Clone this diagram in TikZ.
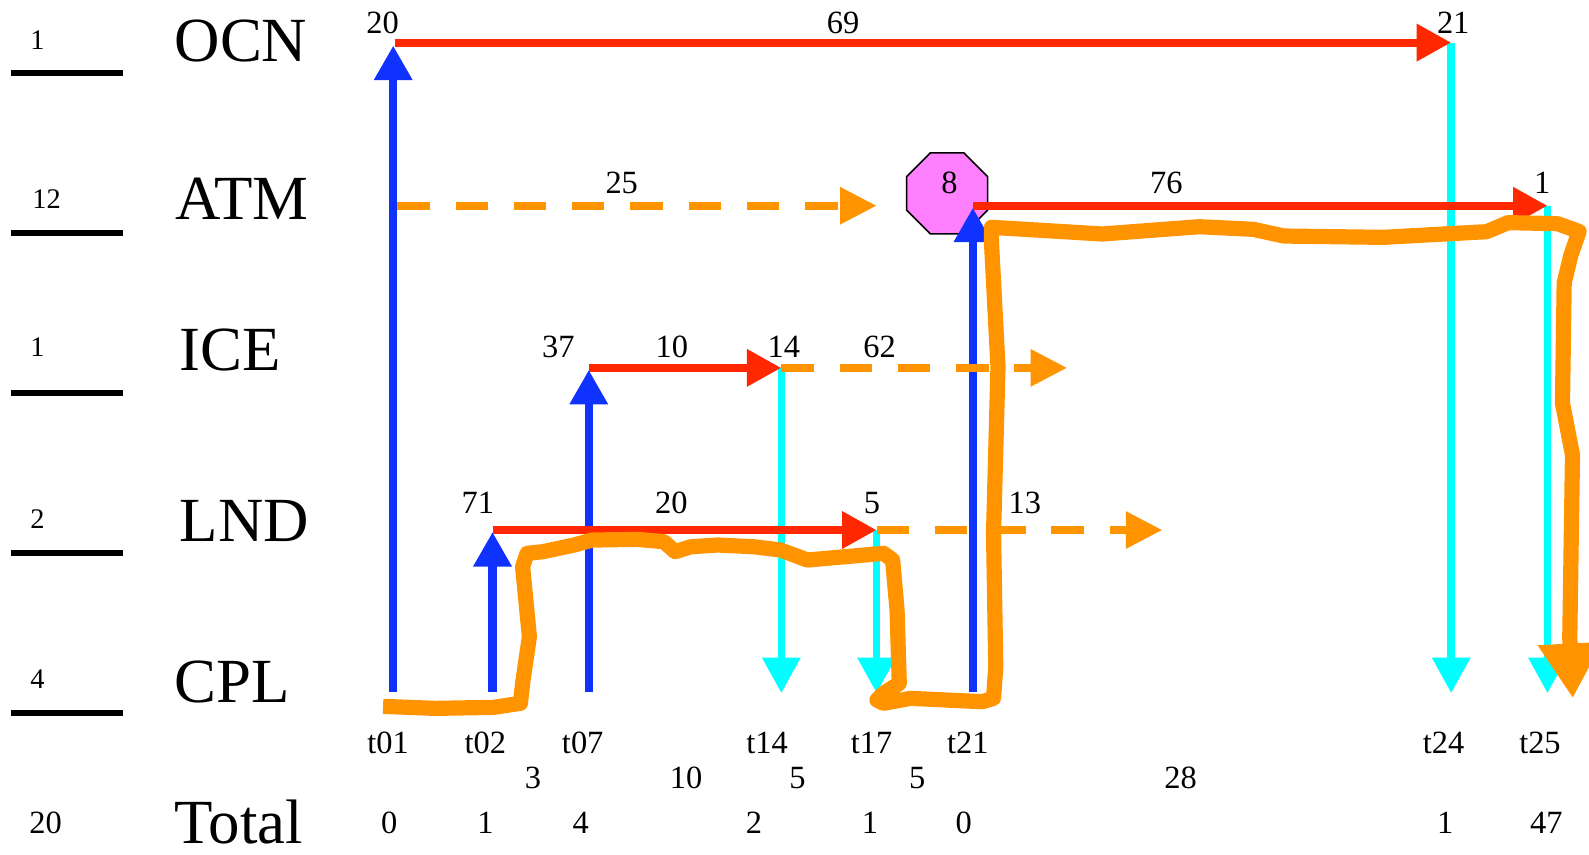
\documentclass[tikz,border=0pt]{standalone}
\usepackage{fontspec}
\setmainfont{Liberation Serif}
\usetikzlibrary{arrows.meta,shapes.geometric}
\definecolor{cblue}{RGB}{16,50,255}
\definecolor{cred}{RGB}{255,40,0}
\definecolor{ccyan}{RGB}{0,255,255}
\definecolor{corange}{RGB}{255,148,0}
\definecolor{cpink}{RGB}{255,128,255}
\begin{document}
\begin{tikzpicture}[x=0.5pt,y=-0.5pt,
  num/.style={inner sep=0pt, anchor=base, font=\fontsize{16}{19}\selectfont},
  lnum/.style={inner sep=0pt, anchor=base, font=\fontsize{14}{17}\selectfont},
  comp/.style={inner sep=0pt, anchor=base west, font=\fontsize{31}{36}\selectfont},
  rowline/.style={line width=3pt, black},
  upflow/.style={line width=4pt, cblue, -{Triangle[length=17pt,width=18pt]}},
  downflow/.style={line width=3.75pt, ccyan, -{Triangle[length=17.5pt,width=18pt]}},
  sendflow/.style={line width=4pt, cred, -{Triangle[length=17pt,width=17.5pt]}},
  waitflow/.style={line width=3.75pt, corange, dash pattern=on 16pt off 12.75pt, -{Triangle[length=18pt,width=17.5pt]}},
  critpath/.style={line width=7.5pt, corange, line join=round, -{Triangle[length=27pt,width=30pt]}},
  stopbox/.style={regular polygon, regular polygon sides=8, draw=black, line width=0.8pt, fill=cpink, minimum size=43.3pt, inner sep=0pt}
]
\useasboundingbox (0,0) rectangle (1568,843);

% component rows: separator lines, counts, names
\coordinate (l1a) at (11,71.7);  \coordinate (l1b) at (121.7,71.7);
\coordinate (l2a) at (11,229.6); \coordinate (l2b) at (121.7,229.6);
\coordinate (l3a) at (11,387.5); \coordinate (l3b) at (121.7,387.5);
\coordinate (l4a) at (11,545.4); \coordinate (l4b) at (121.7,545.4);
\coordinate (l5a) at (11,703.3); \coordinate (l5b) at (121.7,703.3);
\draw[rowline] (l1a) -- (l1b);
\draw[rowline] (l2a) -- (l2b);
\draw[rowline] (l3a) -- (l3b);
\draw[rowline] (l4a) -- (l4b);
\draw[rowline] (l5a) -- (l5b);

\node[lnum] (nocn) at (37,48.7) {1};
\node[lnum] (natm) at (46,205.6) {12};
\node[lnum] (nice) at (37,352) {1};
\node[lnum] (nlnd) at (37,521.4) {2};
\node[lnum] (ncpl) at (37,679.2) {4};
\node[num]  (ntot) at (45,822) {20};

\node[comp] (ocn) at (172,61) {OCN};
\node[comp] (atm) at (173,217) {ATM};
\node[comp] (ice) at (177,366) {ICE};
\node[comp] (lnd) at (177,534.5) {LND};
\node[comp] (cpl) at (172,693) {CPL};
\node[comp] (tot) at (172,832) {Total};

% grid points
\coordinate (ocn01) at (388,42);
\coordinate (ocn24) at (1432,42);
\coordinate (atm01) at (390,203);
\coordinate (atm17) at (865,203);
\coordinate (atm21) at (960,203);
\coordinate (atm25) at (1527,203);
\coordinate (ice07) at (581,363);
\coordinate (ice14) at (771,363);
\coordinate (iceend) at (1053,363);
\coordinate (lnd02) at (486,523);
\coordinate (lnd17) at (865,523);
\coordinate (lndend) at (1147,523);
\coordinate (cpl01) at (388,683);
\coordinate (cpl02) at (486,683);
\coordinate (cpl07) at (581,683);
\coordinate (cpl14) at (771,684);
\coordinate (cpl17) at (865,684);
\coordinate (cpl21) at (960,683);
\coordinate (cpl24) at (1432,684);
\coordinate (cpl25) at (1527,684);

% octagon
\node[stopbox] (stop) at (934.6,190.8) {};

% blue (up)
\draw[upflow] (cpl01) -- ([yshift=-1.5pt]ocn01);
\draw[upflow] (cpl02) -- ([yshift=-1pt]lnd02);
\draw[upflow] (cpl07) -- ([yshift=-1pt]ice07);
\draw[upflow] (cpl21) -- ([yshift=-1pt]atm21);

% cyan (down)
\draw[downflow] (ocn24) -- (cpl24);
\draw[downflow] (atm25) -- (cpl25);
\draw[downflow] (ice14) -- (cpl14);
\draw[downflow] (lnd17) -- (cpl17);

% orange dashed
\draw[waitflow] ([xshift=1pt]atm01) -- (atm17);
\draw[waitflow] (ice14) -- (iceend);
\draw[waitflow] (lnd17) -- (lndend);

% red (send)
\draw[sendflow] ([xshift=1pt]ocn01) -- (ocn24);
\draw[sendflow] (atm21) -- (atm25);
\draw[sendflow] (ice07) -- (ice14);
\draw[sendflow] (lnd02) -- (lnd17);

% labels on the rows
\node[num] (o20) at (377.6,33) {20};
\node[num] (o69) at (832,33) {69};
\node[num] (o21) at (1434,33) {21};
\node[num] (a25) at (613.5,191) {25};
\node[num] (a8)  at (937,191) {8};
\node[num] (a76) at (1151,191) {76};
\node[num] (a1)  at (1521.8,191) {1};
\node[num] (i37) at (551,352.5) {37};
\node[num] (i10) at (663,352.5) {10};
\node[num] (i14) at (773.5,352.5) {14};
\node[num] (i62) at (868,352.5) {62};
\node[num] (d71) at (471.5,506.5) {71};
\node[num] (d20) at (662.4,506.5) {20};
\node[num] (d5)  at (860.4,506.5) {5};
\node[num] (d13) at (1011.3,506.5) {13};

% time labels
\node[num] (t01) at (383,744) {t01};
\node[num] (t02) at (479,744) {t02};
\node[num] (t07) at (575,744) {t07};
\node[num] (t14) at (757,744) {t14};
\node[num] (t17) at (860,744) {t17};
\node[num] (t21) at (955,744) {t21};
\node[num] (t24) at (1424.5,744) {t24};
\node[num] (t25) at (1519.6,744) {t25};

\node[num] (g1) at (526,778) {3};
\node[num] (g2) at (677,778) {10};
\node[num] (g3) at (787,778) {5};
\node[num] (g4) at (905,778) {5};
\node[num] (g5) at (1165,778) {28};

\node[num] (s01) at (384,822) {0};
\node[num] (s02) at (479,822) {1};
\node[num] (s07) at (573,822) {4};
\node[num] (s14) at (744,822) {2};
\node[num] (s17) at (858.5,822) {1};
\node[num] (s21) at (951,822) {0};
\node[num] (s24) at (1426,822) {1};
\node[num] (s25) at (1526,822) {47};

% critical path (freehand)
\draw[critpath] (378,697) -- (429.5,699) -- (487,698) -- (513.5,694) -- (516,672) -- (522.4,628.3) -- (515.7,559.2) -- (520.1,546) -- (535.6,544.4) -- (566.6,537.8) -- (584.2,532.9) -- (628.6,532.2) -- (655.1,534.5) -- (666.2,544.4) -- (681.7,539.5) -- (708.2,537.8) -- (743.6,539.5) -- (770.2,542.7) -- (796.7,552.6) -- (871.9,546) -- (880.8,552.6) -- (885.2,602) -- (887.4,674.3) -- (871.9,684.2) -- (865.3,690.8) -- (871.9,694) -- (898.5,689.1) -- (969.3,692.4) -- (980.4,689.1) -- (982.6,657.8) -- (980.4,526.3) -- (984.8,361.8) -- (978.4,240) -- (978.4,224.3) -- (1087.8,230.9) -- (1183.2,223.7) -- (1236.7,226.3) -- (1267,232.9) -- (1364.7,234.2) -- (1467.1,228.6) -- (1488,219.7) -- (1536.9,220.7) -- (1558.2,228.4) -- (1550,252.2) -- (1543.5,279.3) -- (1541.8,397.9) -- (1551.7,448.8) -- (1549,630) -- (1552,689);
\end{tikzpicture}
\end{document}
